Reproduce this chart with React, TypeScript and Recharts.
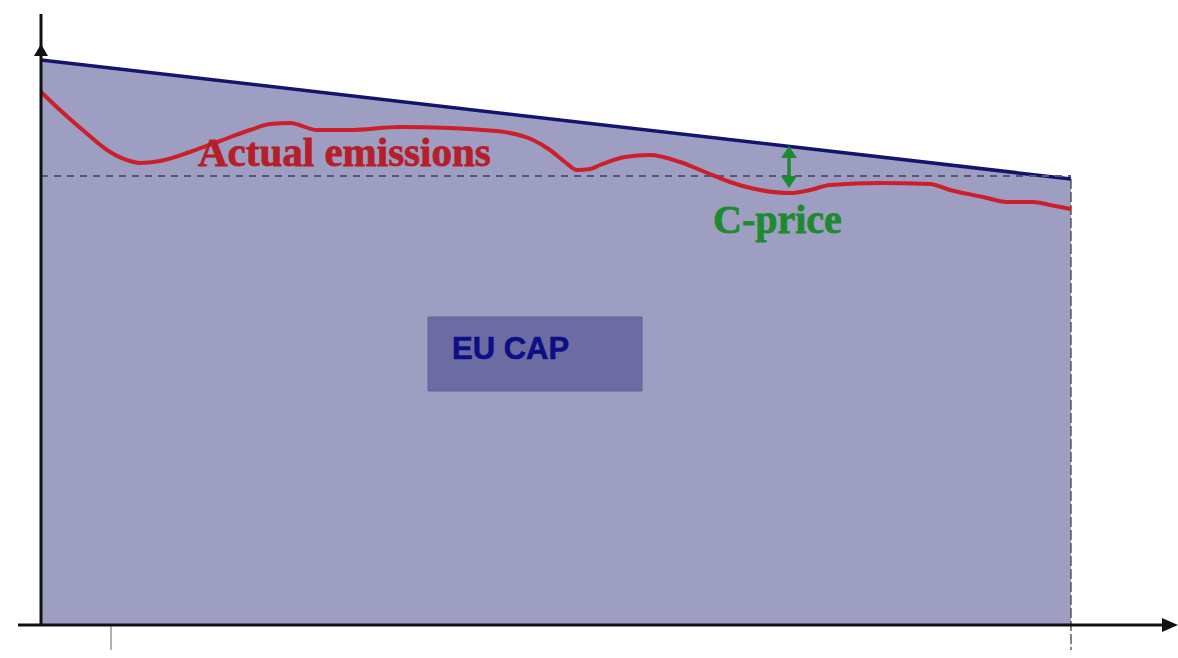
import { ComposedChart, Area, Line, XAxis, YAxis, ReferenceLine, ReferenceArea, ReferenceDot } from "recharts";

// cap: straight line from start to end of period
const capX = [0, 1030];
const capY = [565, 446];

// actual emissions path
const emissionsX = [0, 19, 44, 69, 89, 99, 119, 149, 179, 209, 229, 249, 276, 309, 359, 409, 442, 474, 492, 509, 524, 536, 549, 559, 584, 609, 639, 664, 689, 719, 749, 769, 789, 839, 889, 909, 942, 966, 992, 1009, 1030];
const emissionsY = [533, 515, 493, 473, 464, 462, 464, 473, 484, 495, 501, 502, 495, 495, 498, 497, 495, 491, 485, 475, 463, 455, 456, 460, 468, 470, 463, 453, 443, 435, 432, 435, 440, 442, 441, 435, 428, 423, 423, 420, 416];

const priceLevel = 449;
const cPriceX = 748;
const cPriceRange = [437, 479];
const tickX = 70;

const capData = capX.map((x, i) => ({ x, cap: capY[i] }));
const emissionsData = emissionsX.map((x, i) => ({ x, emissions: emissionsY[i] }));

const SERIF = '"Times New Roman", "Liberation Serif", serif';
const SANS = 'Arial, "Liberation Sans", sans-serif';

const yAxisShape = (p: any) => (
  <g>
    <line x1={p.x1} y1={p.y1} x2={p.x2} y2={p.y2} stroke="#111" strokeWidth={3} />
    <polygon points={`${p.x2},${p.y2 + 30} ${p.x2 - 7},${p.y2 + 42} ${p.x2 + 7},${p.y2 + 42}`} fill="#111" />
  </g>
);

const xAxisShape = (p: any) => (
  <g>
    <line x1={p.x1} y1={p.y1} x2={p.x2 - 6} y2={p.y2} stroke="#111" strokeWidth={3} />
    <polygon points={`${p.x2},${p.y2} ${p.x2 - 16},${p.y2 - 7} ${p.x2 - 16},${p.y2 + 7}`} fill="#111" />
  </g>
);

const doubleArrow = (p: any) => {
  const top = Math.min(p.y1, p.y2);
  const bot = Math.max(p.y1, p.y2);
  return (
    <g>
      <line x1={p.x1} y1={top + 8} x2={p.x1} y2={bot - 8} stroke="#1e8a30" strokeWidth={3.5} />
      <polygon points={`${p.x1},${top} ${p.x1 - 8},${top + 12} ${p.x1 + 8},${top + 12}`} fill="#1e8a30" />
      <polygon points={`${p.x1},${bot} ${p.x1 - 8},${bot - 12} ${p.x1 + 8},${bot - 12}`} fill="#1e8a30" />
    </g>
  );
};

const textShape = (text: string, fill: string, font: string, size: number, heavy: number) => (p: any) => (
  <text
    x={p.cx}
    y={p.cy}
    fill={fill}
    stroke={fill}
    strokeWidth={heavy}
    fontFamily={font}
    fontSize={size}
    fontWeight="bold"
    textAnchor="start"
  >
    {text}
  </text>
);

export default function App() {
  return (
    <div style={{ position: "absolute", left: 0, top: 0, width: 1178, height: 658, background: "#fff" }}>
      <ComposedChart width={1178} height={658} margin={{ top: 0, right: 0, left: 0, bottom: 0 }}>
        <XAxis type="number" dataKey="x" domain={[-41, 1137]} hide allowDataOverflow />
        <YAxis type="number" domain={[-33, 625]} hide allowDataOverflow />
        <Area
          data={capData}
          dataKey="cap"
          type="linear"
          baseValue={0}
          fill="#9e9ec2"
          fillOpacity={1}
          stroke="#14146e"
          strokeWidth={3.5}
          dot={false}
          activeDot={false}
          isAnimationActive={false}
        />
        <ReferenceLine
          segment={[{ x: 0, y: priceLevel }, { x: 1030, y: priceLevel }]}
          stroke="#56567a"
          strokeWidth={1.8}
          strokeDasharray="7 6"
          ifOverflow="visible"
        />
        <ReferenceLine
          segment={[{ x: 1030, y: capY[1] }, { x: 1030, y: -25 }]}
          stroke="#444"
          strokeWidth={1.3}
          strokeDasharray="10 3"
          ifOverflow="visible"
        />
        <ReferenceLine
          segment={[{ x: tickX, y: 0 }, { x: tickX, y: -25 }]}
          stroke="#666"
          strokeWidth={1}
          ifOverflow="visible"
        />
        <ReferenceArea
          x1={387}
          x2={601}
          y1={234}
          y2={308}
          fill="#6c6ca2"
          fillOpacity={1}
          stroke="#62629a"
          ifOverflow="visible"
        />
        <Line
          data={emissionsData}
          dataKey="emissions"
          type="monotone"
          stroke="#cc1f2a"
          strokeWidth={4}
          dot={false}
          activeDot={false}
          isAnimationActive={false}
        />
        <ReferenceLine segment={[{ x: 0, y: 0 }, { x: 0, y: 611 }]} shape={yAxisShape} ifOverflow="visible" />
        <ReferenceLine segment={[{ x: -23, y: 0 }, { x: 1137, y: 0 }]} shape={xAxisShape} ifOverflow="visible" />
        <ReferenceLine
          segment={[{ x: cPriceX, y: cPriceRange[0] }, { x: cPriceX, y: cPriceRange[1] }]}
          shape={doubleArrow}
          ifOverflow="visible"
        />
        <ReferenceDot x={157} y={459} r={0} shape={textShape("Actual emissions", "#b51f2a", SERIF, 41, 0.8)} ifOverflow="visible" />
        <ReferenceDot x={672} y={392} r={0} shape={textShape("C-price", "#1e8a30", SERIF, 40, 0.8)} ifOverflow="visible" />
        <ReferenceDot x={411} y={266} r={0} shape={textShape("EU CAP", "#0e0e86", SANS, 31, 0.6)} ifOverflow="visible" />
      </ComposedChart>
    </div>
  );
}
